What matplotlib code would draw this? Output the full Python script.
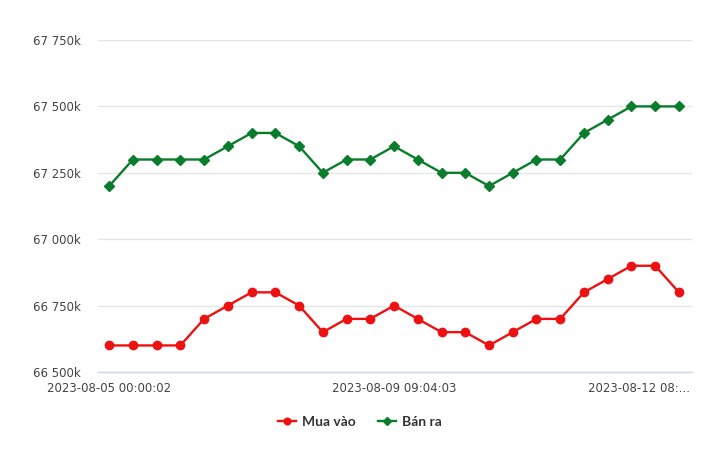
import matplotlib
matplotlib.use("Agg")
import matplotlib.pyplot as plt
from matplotlib.ticker import FuncFormatter, FixedLocator
import matplotlib.transforms as mtransforms

# Values in thousand VND
mua_vao = [66600, 66600, 66600, 66600, 66700, 66750, 66800, 66800, 66750, 66650,
           66700, 66700, 66750, 66700, 66650, 66650, 66600, 66650, 66700, 66700,
           66800, 66850, 66900, 66900, 66800]
ban_ra = [67200, 67300, 67300, 67300, 67300, 67350, 67400, 67400, 67350, 67250,
          67300, 67300, 67350, 67300, 67250, 67250, 67200, 67250, 67300, 67300,
          67400, 67450, 67500, 67500, 67500]
tick_positions = [0, 12, 24]
tick_labels = ["2023-08-05 00:00:02", "2023-08-09 09:04:03", "2023-08-12 08:..."]
y_ticks = [66500, 66750, 67000, 67250, 67500, 67750]

red = "#ee1111"
green = "#0a7d2c"

fig = plt.figure(figsize=(7.2, 4.5), dpi=100)
ax = fig.add_axes([98/720, 1-372/450, (692-98)/720, (372-40)/450])

x = list(range(len(mua_vao)))
ax.plot(x, mua_vao, color=red, lw=1.7, marker="o", ms=6, label="Mua vào", zorder=3)
ax.plot(x, ban_ra, color=green, lw=1.7, marker="D", ms=4.6, label="Bán ra", zorder=3)

ax.set_xlim(-0.47, 24.55)
ax.set_ylim(66500, 67750)
ax.yaxis.set_major_locator(FixedLocator(y_ticks))
ax.yaxis.set_major_formatter(FuncFormatter(lambda v, p: f"{v:,.0f}".replace(",", " ") + "k"))
ax.grid(axis="y", color="#e6e6e6", lw=1)
ax.set_axisbelow(True)
for s in ["top", "right", "left"]:
    ax.spines[s].set_visible(False)
ax.spines["bottom"].set_color("#ccd6eb")
ax.spines["bottom"].set_linewidth(1)

ax.set_xticks(tick_positions)
ax.set_xticklabels(tick_labels)
ax.tick_params(axis="x", length=0, pad=7, labelsize=8.5, labelcolor="#444444")
ax.tick_params(axis="y", length=0, pad=12.5, labelsize=8.5, labelcolor="#444444")

last = ax.get_xticklabels()[-1]
last.set_ha("right")
last.set_transform(last.get_transform() + mtransforms.ScaledTranslation(11/100, 0, fig.dpi_scale_trans))

leg = fig.legend(loc="center", bbox_to_anchor=(0.5, 1-422/450), ncol=2, frameon=False,
                 prop={"family": ["Lato", "DejaVu Sans"], "weight": "bold", "size": 10},
                 handlelength=1.3, columnspacing=1.6, handletextpad=0.45,
                 markerscale=0.8)
for t in leg.get_texts():
    t.set_color("#333333")

fig.savefig("out.png", dpi=100)
